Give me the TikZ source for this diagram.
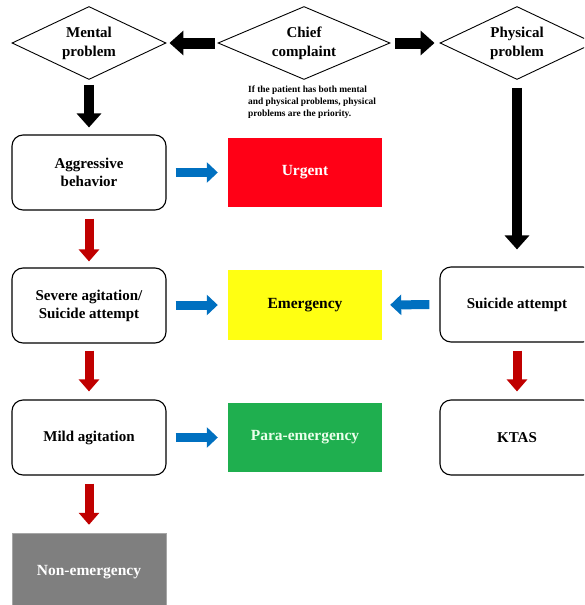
\documentclass[tikz,border=0pt]{standalone}
\usepackage{fontspec}
\setmainfont{Liberation Serif}
\usetikzlibrary{shapes.geometric,arrows.meta}
\definecolor{bluearr}{HTML}{0070C0}
\definecolor{redarr}{HTML}{C00000}
\definecolor{urgred}{HTML}{FF0016}
\definecolor{emyel}{HTML}{FFFF12}
\definecolor{pagreen}{HTML}{1FAF4F}
\definecolor{nongray}{HTML}{7F7F7F}
\tikzset{
  dia/.style={diamond, draw=black, line width=0.9pt, inner sep=0pt, shape aspect=2.1,
    minimum width=154pt, minimum height=73pt, align=center,
    font=\fontsize{15}{19}\selectfont\bfseries},
  rbox/.style={rectangle, rounded corners=11pt, draw=black, line width=1.1pt,
    minimum width=154pt, minimum height=75pt, align=center, inner sep=0pt,
    font=\fontsize{15}{18}\selectfont\bfseries},
  cbox/.style={rectangle, minimum width=154pt, minimum height=69pt, align=center, inner sep=0pt,
    font=\fontsize{15.5}{18}\selectfont\bfseries},
  blackarr/.style={draw=black, line width=11pt, line cap=butt, -{Triangle[width=24pt,length=14pt]}},
  redar/.style={draw=redarr, line width=9pt, line cap=butt, -{Triangle[width=20pt,length=12pt]}},
  bluear/.style={draw=bluearr, line width=9pt, line cap=butt, -{Triangle[width=20pt,length=11pt]}},
}
\begin{document}
\begin{tikzpicture}[x=1pt,y=-1pt]
\useasboundingbox (0,0) rectangle (584,605);
\clip (0,0) rectangle (584,605);
% diamonds
\node[dia] (mental) at (89,43) {Mental\\problem};
\node[dia, minimum width=172pt] (chief) at (304,43) {Chief\\complaint};
\node[dia] (phys) at (517,43) {Physical\\problem};
% note
\node[anchor=north west, align=left, inner sep=0pt, font=\fontsize{9.4}{11.7}\selectfont\bfseries] (note) at (248,86)
  {If the patient has both mental\\and physical problems, physical\\problems are the priority.};
% left column
\node[rbox] (agg) at (89,172.5) {Aggressive\\behavior};
\node[rbox] (sev) at (89,305.5) {Severe agitation/\\Suicide attempt};
\node[rbox] (mild) at (89,437.5) {Mild agitation};
\node[cbox, fill=nongray, draw=gray!70, text=white, minimum height=78pt] (non) at (89,572) {Non-emergency};
% middle column
\node[cbox, fill=urgred, text=white] (urg) at (305,172.5) {Urgent};
\node[cbox, fill=emyel, text=black, minimum height=70pt] (emer) at (305,305) {Emergency};
\node[cbox, fill=pagreen, text=green!8, minimum height=69pt] (para) at (305,437.5) {Para-emergency};
% right column
\node[rbox] (sui) at (517,304.5) {Suicide attempt};
\node[rbox] (ktas) at (517,437.5) {KTAS};
% black arrows
\draw[blackarr, shorten <=3pt, shorten >=3pt] (chief.west) -- (mental.east);
\draw[blackarr, shorten <=5pt, shorten >=5pt] (chief.east) -- (phys.west);
\draw[blackarr, line width=10pt, shorten <=5pt, shorten >=7pt] (mental.south) -- (agg.north);
\draw[blackarr, line width=10pt, shorten <=8pt, shorten >=17pt] (phys.south) -- (sui.north);
% red arrows
\draw[redar, shorten <=8pt, shorten >=6pt] (agg.south) -- (sev.north);
\draw[redar, shorten <=7pt, shorten >=8pt] (sev.south) -- (mild.north);
\draw[redar, shorten <=8pt, shorten >=8pt] (mild.south) -- (non.north);
\draw[redar, shorten <=8pt, shorten >=8pt] (sui.south) -- (ktas.north);
% blue arrows
\draw[bluear, shorten <=9pt, shorten >=10pt] (agg.east) -- (urg.west);
\draw[bluear, shorten <=9pt, shorten >=10pt] (sev.east |- emer.west) -- (emer.west);
\draw[bluear, shorten <=9pt, shorten >=10pt] (mild.east) -- (para.west);
\draw[bluear, shorten <=10pt, shorten >=8pt] (sui.west) -- (emer.east);
\end{tikzpicture}
\end{document}
